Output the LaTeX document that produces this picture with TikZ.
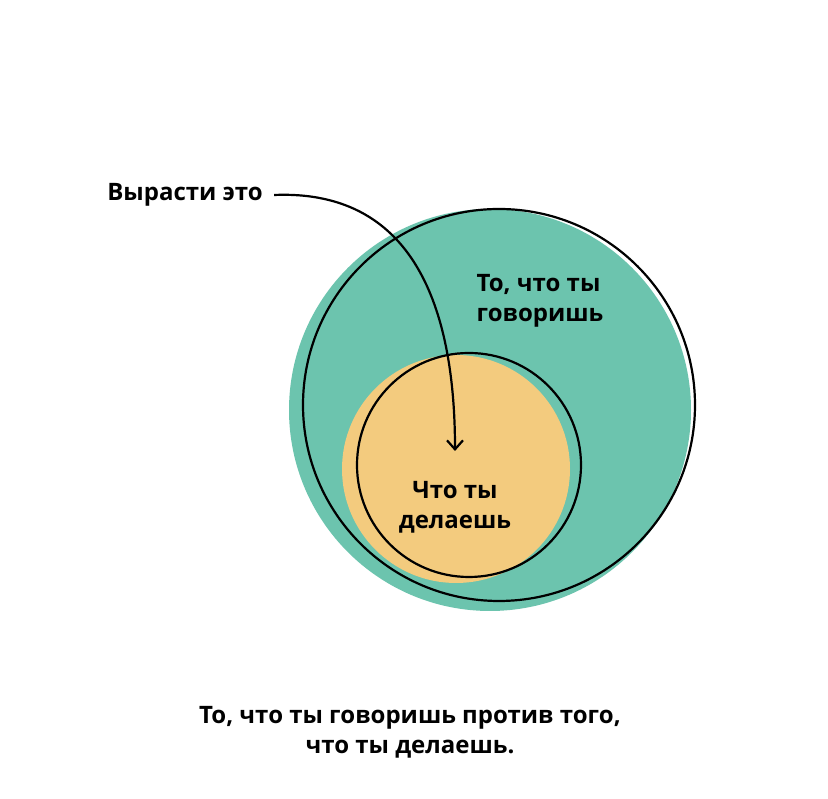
\documentclass[tikz,border=0pt]{standalone}
\usepackage{fontspec}
\setmainfont{Open Sans}
\usetikzlibrary{arrows.meta}
\definecolor{teal}{HTML}{6CC4AE}
\definecolor{sand}{HTML}{F3CB7E}
\tikzset{
  lbl/.style={font=\fontsize{24}{30}\selectfont\bfseries, align=center, text=black},
  ring/.style={draw=black, line width=2.2pt}
}
\begin{document}
\begin{tikzpicture}[x=1pt,y=1pt]
\useasboundingbox[fill=white] (0,0) rectangle (828,799);
% outer circle
\fill[teal] (490,389) circle (201);
\draw[ring] (499,394) circle (196);
% inner circle
\fill[sand] (456,330) circle (114);
\draw[ring] (469,334) circle (112);
% labels
\node[lbl] (grow) at (185,604) {Вырасти это};
\node[lbl, align=left] (say) at (540,498) {То, что ты\\говоришь};
\node[lbl] (do) at (455,292) {Что ты\\делаешь};
\coordinate (tip) at (455,348);
\draw[line width=2.2pt, -{Straight Barb[length=9pt,width=16pt]}]
  (grow.east) ++(8,0) .. controls (420,610) and (455,480) .. (tip);
\node[lbl] (caption) at (410,67) {То, что ты говоришь против того,\\что ты делаешь.};
\end{tikzpicture}
\end{document}
